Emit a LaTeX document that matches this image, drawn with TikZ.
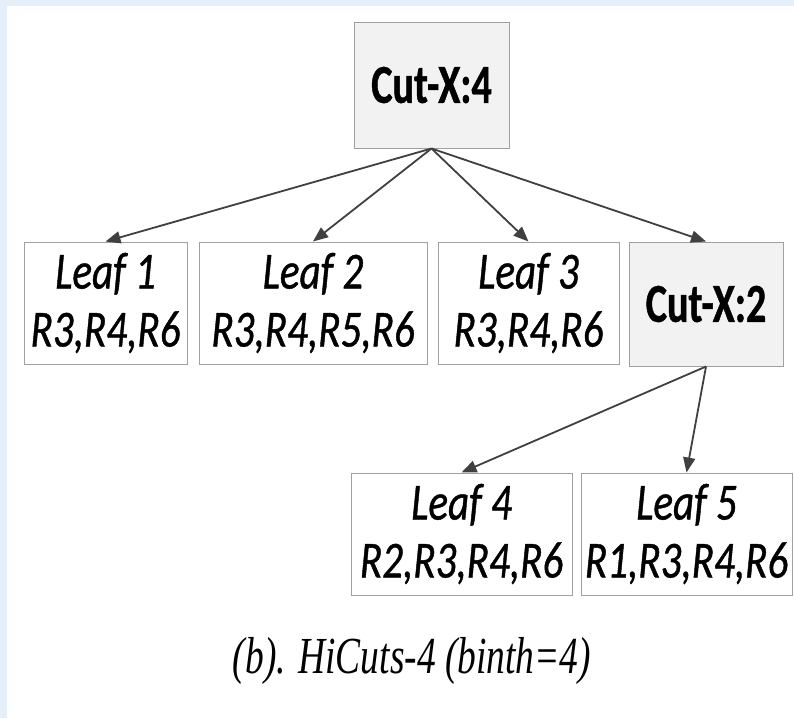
\documentclass[tikz,border=0pt]{standalone}
\usepackage{fontspec}
\setmainfont{Carlito}
\newfontfamily\leaffont[FakeStretch=0.79,FakeBold=0.8]{Carlito}
\newfontfamily\cutfont[FakeStretch=0.73,FakeBold=0.8]{Carlito}
\newfontfamily\capfont[FakeStretch=0.72]{Liberation Serif}
\usetikzlibrary{arrows.meta}
\definecolor{cutfill}{HTML}{F2F2F2}
\definecolor{boxline}{HTML}{A0A0A0}
\definecolor{linkcol}{HTML}{404040}
\definecolor{pagetint}{HTML}{E4EFFA}

\begin{document}
\begin{tikzpicture}[x=1pt, y=-1pt,
	    box/.style={draw=boxline, line width=1pt, inner sep=0pt, align=center},
	    cut/.style={box, fill=cutfill, font=\cutfont\bfseries\fontsize{55}{60}\selectfont},
	    leaf/.style={box, fill=white, minimum height=122pt, font=\leaffont\itshape\fontsize{52}{58}\selectfont},
	    link/.style={draw=linkcol, line width=1.8pt, -{Triangle[length=15pt,width=12pt]}}]

		% page with its tinted edge
		\fill[pagetint] (0,0) rectangle (794,718);
		\fill[white] (7,6) rectangle (794,718);

		\node[cut, minimum width=155pt, minimum height=126pt] (cutA) at (431.5,85) {Cut-X:4};  % root node

		% first level
		\node[leaf, minimum width=163pt] (leafA) at (105.5,303) {Leaf 1\\R3,R4,R6\rule[-4pt]{0pt}{4pt}};
		\node[leaf, minimum width=228pt] (leafB) at (313,303) {Leaf 2\\R3,R4,R5,R6\rule[-4pt]{0pt}{4pt}};
		\node[leaf, minimum width=181pt] (leafC) at (528.5,303) {Leaf 3\\R3,R4,R6\rule[-4pt]{0pt}{4pt}};
		\node[cut, minimum width=154pt, minimum height=124pt] (cutB) at (706,304) {Cut-X:2};

		% second level
		\node[leaf, minimum width=221pt] (leafD) at (461.5,534) {Leaf 4\\R2,R3,R4,R6\rule[-4pt]{0pt}{4pt}};
		\node[leaf, minimum width=211pt] (leafE) at (686.5,534) {Leaf 5\\R1,R3,R4,R6\rule[-4pt]{0pt}{4pt}};

		\draw[link] (cutA.south) -- (leafA.north);
		\draw[link] (cutA.south) -- (leafB.north);
		\draw[link] (cutA.south) -- (leafC.north);
		\draw[link] (cutA.south) -- (cutB.north);
		\draw[link] (cutB.south) -- (leafD.north);
		\draw[link] (cutB.south) -- (leafE.north);

		\node[font=\capfont\itshape\fontsize{52}{60}\selectfont] (caption) at (412,661) {(b). HiCuts-4 (binth=4)}; % end of tree

	  \end{tikzpicture}
\end{document}
